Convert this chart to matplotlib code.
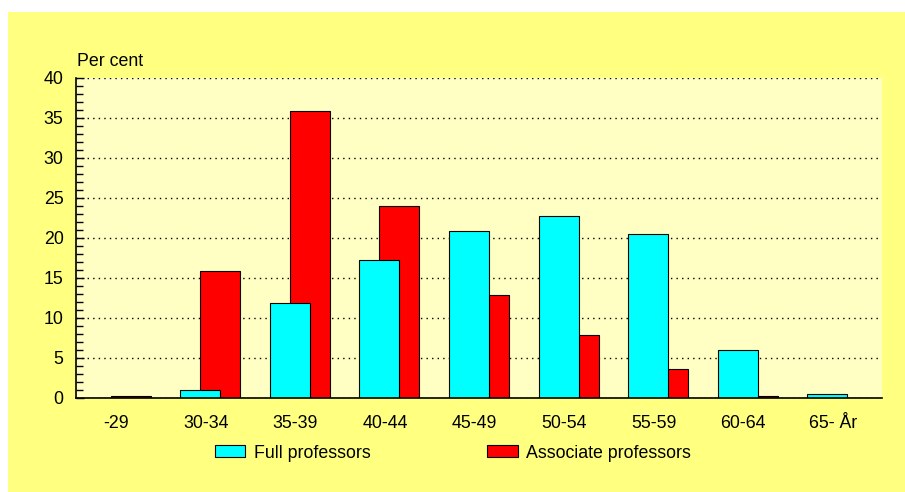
import numpy as np
import matplotlib
matplotlib.use("Agg")
import matplotlib.pyplot as plt
from matplotlib.patches import Rectangle

plt.rcParams["font.family"] = ["Liberation Sans", "DejaVu Sans"]
plt.rcParams["font.size"] = 12.8

# Data (per cent of each group by age class)
age_groups = ["-29", "30-34", "35-39", "40-44", "45-49", "50-54", "55-59", "60-64", "65- År"]
full_prof = [0.0, 1.0, 11.9, 17.3, 20.9, 22.7, 20.5, 6.0, 0.5]
assoc_prof = [0.3, 15.9, 35.9, 24.0, 12.9, 7.9, 3.6, 0.2, 0.0]

W, H = 905, 492
fig = plt.figure(figsize=(W / 100, H / 100), dpi=100)
fig.patch.set_facecolor("white")
# yellow panel with a thin white margin at top/left
fig.add_artist(Rectangle((8 / W, 0), 1 - 8 / W, 1 - 12 / H, transform=fig.transFigure,
                         facecolor="#FFFF80", edgecolor="none", zorder=-10))

ax = fig.add_axes([76 / W, 94 / H, (882 - 76) / W, (398 - 78) / H])
ax.set_facecolor("#FFFFC4")

x = np.arange(len(age_groups))
bw = 0.447
off = 0.112
ax.bar(x + off, assoc_prof, width=bw, color="#FF0000", edgecolor="black",
       linewidth=0.8, zorder=2, label="Associate professors")
ax.bar(x - off, full_prof, width=bw, color="#00FFFF", edgecolor="black",
       linewidth=0.8, zorder=3, label="Full professors")

ax.set_xlim(-0.5, 8.5)
ax.set_ylim(0, 40)
ax.set_yticks(range(0, 41, 5))
ax.set_yticks(range(0, 41, 1), minor=True)
ax.set_xticks(x - 0.05)
ax.set_xticklabels(age_groups)
ax.tick_params(axis="x", length=0, pad=12)
ax.tick_params(axis="y", which="major", direction="in", length=6, width=1, pad=9)
ax.tick_params(axis="y", which="minor", direction="in", length=5, width=1)

for s in ["top", "right"]:
    ax.spines[s].set_visible(False)
for s in ["left", "bottom"]:
    ax.spines[s].set_linewidth(1.2)
    ax.spines[s].set_zorder(4)

ax.yaxis.grid(True, which="major", color="black", linestyle=(0, (1, 3)), linewidth=1.0)
ax.set_axisbelow(True)

fig.text(77 / W, 1 - 62 / H, "Per cent", ha="left", va="center")

# Legend below the plot
h_asc, l_asc = ax.get_legend_handles_labels()
handles = [h_asc[1], h_asc[0]]
labels = [l_asc[1], l_asc[0]]
fig.legend(handles, labels, ncol=2, frameon=False, loc="center left",
           bbox_to_anchor=(215 / W, 1 - 453 / H), borderpad=0, borderaxespad=0,
           handlelength=1.69, handleheight=0.67, handletextpad=0.5, columnspacing=6.57)

plt.savefig("out.png", dpi=100)
